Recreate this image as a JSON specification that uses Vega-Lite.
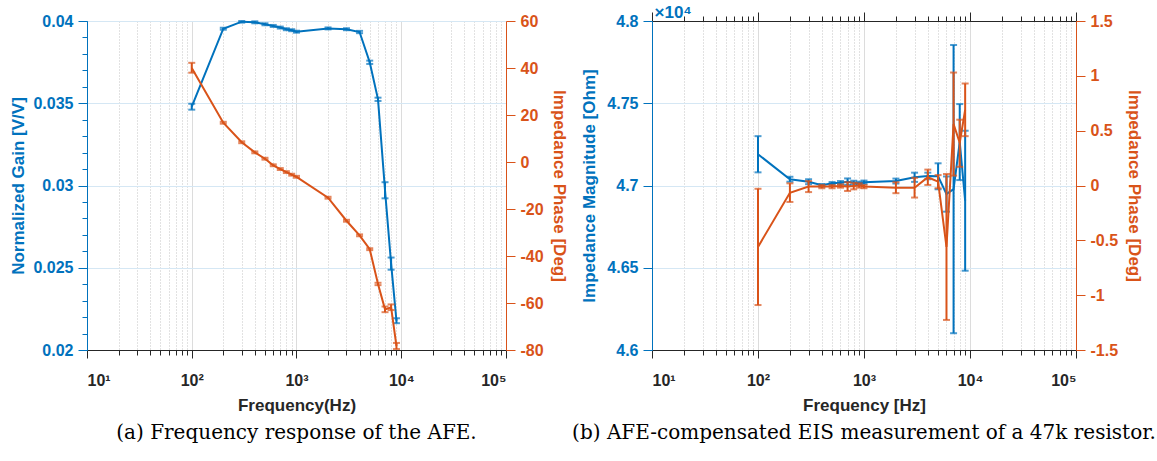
{
  "$schema": "https://vega.github.io/schema/vega-lite/v6.json",
  "background": "white",
  "padding": {"left": 9, "top": 3, "right": 2, "bottom": 4},
  "bounds": "flush",
  "spacing": 146,
  "datasets": {
    "afe": [
      {"freq": 100, "gain": 0.03479, "gain_lo": 0.03461, "gain_hi": 0.03497, "phase": 40.0, "phase_lo": 38.0, "phase_hi": 42.2},
      {"freq": 200, "gain": 0.03953, "gain_lo": 0.03947, "gain_hi": 0.03959, "phase": 16.7, "phase_lo": 16.3, "phase_hi": 17.1},
      {"freq": 300, "gain": 0.03996, "gain_lo": 0.0399, "gain_hi": 0.04, "phase": 8.4, "phase_lo": 8.0, "phase_hi": 8.8},
      {"freq": 400, "gain": 0.03992, "gain_lo": 0.03986, "gain_hi": 0.03998, "phase": 4.1, "phase_lo": 3.7, "phase_hi": 4.5},
      {"freq": 500, "gain": 0.0398, "gain_lo": 0.03974, "gain_hi": 0.03986, "phase": 1.4, "phase_lo": 1.0, "phase_hi": 1.8},
      {"freq": 600, "gain": 0.0397, "gain_lo": 0.03964, "gain_hi": 0.03976, "phase": -1.4, "phase_lo": -1.8, "phase_hi": -1.0},
      {"freq": 700, "gain": 0.0396, "gain_lo": 0.03954, "gain_hi": 0.03966, "phase": -3.0, "phase_lo": -3.4, "phase_hi": -2.6},
      {"freq": 800, "gain": 0.0395, "gain_lo": 0.03944, "gain_hi": 0.03956, "phase": -4.3, "phase_lo": -4.7, "phase_hi": -3.9},
      {"freq": 900, "gain": 0.03944, "gain_lo": 0.03938, "gain_hi": 0.0395, "phase": -5.4, "phase_lo": -5.8, "phase_hi": -5.0},
      {"freq": 1000, "gain": 0.03935, "gain_lo": 0.03929, "gain_hi": 0.03941, "phase": -6.3, "phase_lo": -6.7, "phase_hi": -5.9},
      {"freq": 2000, "gain": 0.03955, "gain_lo": 0.03949, "gain_hi": 0.03961, "phase": -15.2, "phase_lo": -15.6, "phase_hi": -14.8},
      {"freq": 3000, "gain": 0.0395, "gain_lo": 0.03944, "gain_hi": 0.03956, "phase": -25.0, "phase_lo": -25.4, "phase_hi": -24.6},
      {"freq": 4000, "gain": 0.03933, "gain_lo": 0.03926, "gain_hi": 0.0394, "phase": -31.2, "phase_lo": -31.6, "phase_hi": -30.8},
      {"freq": 5000, "gain": 0.03749, "gain_lo": 0.03739, "gain_hi": 0.03759, "phase": -37.1, "phase_lo": -37.5, "phase_hi": -36.7},
      {"freq": 6000, "gain": 0.03524, "gain_lo": 0.03514, "gain_hi": 0.03534, "phase": -51.9, "phase_lo": -52.4, "phase_hi": -51.4},
      {"freq": 7000, "gain": 0.02971, "gain_lo": 0.02922, "gain_hi": 0.0302, "phase": -62.7, "phase_lo": -63.9, "phase_hi": -61.5},
      {"freq": 8000, "gain": 0.02525, "gain_lo": 0.02488, "gain_hi": 0.02562, "phase": -61.8, "phase_lo": -63.0, "phase_hi": -60.6},
      {"freq": 9000, "gain": 0.02178, "gain_lo": 0.02163, "gain_hi": 0.02193, "phase": -78.3, "phase_lo": -79.6, "phase_hi": -77.0}
    ],
    "eis": [
      {"freq": 100, "mag": 47190, "mag_lo": 47080, "mag_hi": 47300, "phase": -0.56, "phase_lo": -1.09, "phase_hi": -0.03},
      {"freq": 200, "mag": 47038, "mag_lo": 47023, "mag_hi": 47053, "phase": -0.066, "phase_lo": -0.15, "phase_hi": 0.02},
      {"freq": 300, "mag": 47023, "mag_lo": 47008, "mag_hi": 47038, "phase": -0.01, "phase_lo": -0.06, "phase_hi": 0.04},
      {"freq": 400, "mag": 47001, "mag_lo": 46993, "mag_hi": 47009, "phase": -0.01, "phase_lo": -0.025, "phase_hi": 0.005},
      {"freq": 500, "mag": 47013, "mag_lo": 47005, "mag_hi": 47021, "phase": -0.01, "phase_lo": -0.025, "phase_hi": 0.005},
      {"freq": 600, "mag": 47017, "mag_lo": 47007, "mag_hi": 47027, "phase": -0.005, "phase_lo": -0.02, "phase_hi": 0.01},
      {"freq": 700, "mag": 47023, "mag_lo": 47003, "mag_hi": 47043, "phase": -0.01, "phase_lo": -0.05, "phase_hi": 0.03},
      {"freq": 800, "mag": 47017, "mag_lo": 47005, "mag_hi": 47029, "phase": -0.005, "phase_lo": -0.035, "phase_hi": 0.025},
      {"freq": 900, "mag": 47013, "mag_lo": 47003, "mag_hi": 47023, "phase": 0.0, "phase_lo": -0.02, "phase_hi": 0.02},
      {"freq": 1000, "mag": 47020, "mag_lo": 47010, "mag_hi": 47030, "phase": -0.01, "phase_lo": -0.025, "phase_hi": 0.005},
      {"freq": 2000, "mag": 47027, "mag_lo": 47012, "mag_hi": 47042, "phase": -0.02, "phase_lo": -0.07, "phase_hi": 0.03},
      {"freq": 3000, "mag": 47050, "mag_lo": 47022, "mag_hi": 47078, "phase": -0.02, "phase_lo": -0.11, "phase_hi": 0.07},
      {"freq": 4000, "mag": 47058, "mag_lo": 47038, "mag_hi": 47078, "phase": 0.075, "phase_lo": 0.005, "phase_hi": 0.145},
      {"freq": 5000, "mag": 47056, "mag_lo": 46977, "mag_hi": 47135, "phase": 0.035, "phase_lo": -0.025, "phase_hi": 0.095},
      {"freq": 6000, "mag": 46948, "mag_lo": 46841, "mag_hi": 47055, "phase": -0.56, "phase_lo": -1.226, "phase_hi": 0.105},
      {"freq": 7000, "mag": 46978, "mag_lo": 46102, "mag_hi": 47854, "phase": 0.56, "phase_lo": 0.09, "phase_hi": 1.03},
      {"freq": 8000, "mag": 47264, "mag_lo": 47033, "mag_hi": 47495, "phase": 0.39, "phase_lo": 0.17, "phase_hi": 0.6},
      {"freq": 9000, "mag": 46908, "mag_lo": 46482, "mag_hi": 47333, "phase": 0.69, "phase_lo": 0.45, "phase_hi": 0.93}
    ]
  },
  "config": {
    "view": {"stroke": null},
    "axis": {
      "labelFont": "Liberation Sans", "labelFontWeight": "bold", "labelFontSize": 16,
      "titleFont": "Liberation Sans", "titleFontWeight": "bold", "titleFontSize": 17,
      "grid": false, "domainWidth": 1, "tickWidth": 1
    }
  },
  "hconcat": [
    {
      "width": 419, "height": 329,
      "data": {"name": "afe"},
      "title": {"text": "(a) Frequency response of the AFE.", "orient": "bottom", "anchor": "middle", "frame": "group", "font": "DejaVu Serif", "fontSize": 20, "fontWeight": "normal", "color": "black", "offset": 10},
      "layer": [
        {
          "layer": [
            {
              "mark": {"type": "rule", "color": "#0072BD", "strokeWidth": 2},
              "encoding": {
                "x": {"field": "freq", "type": "quantitative", "scale": {"type": "log", "domain": [10, 100000], "nice": false},
                  "axis": {"orient": "bottom", "values": [10, 100, 1000, 10000, 100000],
                    "labelExpr": "'10' + ['¹','²','³','⁴','⁵'][round(log(datum.value) / LN10) - 1]",
                    "title": "Frequency(Hz)", "tickSize": 8, "labelPadding": 14, "titlePadding": 9,
                    "domainColor": "#262626", "tickColor": "#262626", "labelColor": "#262626", "titleColor": "#262626",
                    "grid": true, "gridColor": "#dcdcdc"}},
                "y": {"field": "gain_lo", "type": "quantitative", "scale": {"domain": [0.02, 0.04], "nice": false, "zero": false},
                  "axis": {"orient": "left", "values": [0.02, 0.025, 0.03, 0.035, 0.04], "labelExpr": "'' + datum.value",
                    "title": "Normalized Gain [V/V]", "tickSize": 9, "labelPadding": 5, "titlePadding": 5,
                    "domainColor": "#0072BD", "tickColor": "#0072BD", "labelColor": "#0072BD", "titleColor": "#0072BD",
                    "grid": true, "gridColor": "#d5e7f4"}},
                "y2": {"field": "gain_hi"}
              }
            },
            {
              "mark": {"type": "tick", "orient": "horizontal", "color": "#0072BD", "size": 7, "thickness": 2},
              "encoding": {
                "x": {"field": "freq", "type": "quantitative", "axis": null},
                "y": {"field": "gain_lo", "type": "quantitative", "axis": null}
              }
            },
            {
              "mark": {"type": "tick", "orient": "horizontal", "color": "#0072BD", "size": 7, "thickness": 2},
              "encoding": {
                "x": {"field": "freq", "type": "quantitative", "axis": null},
                "y": {"field": "gain_hi", "type": "quantitative", "axis": null}
              }
            },
            {
              "mark": {"type": "line", "color": "#0072BD", "strokeWidth": 2},
              "encoding": {
                "x": {"field": "freq", "type": "quantitative",
                  "axis": {"orient": "bottom", "values": [20, 30, 40, 50, 60, 70, 80, 90, 200, 300, 400, 500, 600, 700, 800, 900, 2000, 3000, 4000, 5000, 6000, 7000, 8000, 9000, 20000, 30000, 40000, 50000, 60000, 70000, 80000, 90000],
                    "labels": false, "title": null, "tickSize": 5, "domainColor": "#262626", "tickColor": "#262626",
                    "grid": true, "gridColor": "#c4c4c4", "gridDash": [1, 2]}},
                "y": {"field": "gain", "type": "quantitative",
                  "axis": {"orient": "left", "values": [0.021, 0.022, 0.023, 0.024, 0.026, 0.027, 0.028, 0.029, 0.031, 0.032, 0.033, 0.034, 0.036, 0.037, 0.038, 0.039],
                    "labels": false, "title": null, "tickSize": 5, "domainColor": "#0072BD", "tickColor": "#0072BD"}}
              }
            }
          ],
          "resolve": {"axis": {"x": "independent", "y": "independent"}}
        },
        {
          "layer": [
            {
              "mark": {"type": "rule", "color": "#D95319", "strokeWidth": 2},
              "encoding": {
                "x": {"field": "freq", "type": "quantitative", "axis": null},
                "y": {"field": "phase_lo", "type": "quantitative", "scale": {"domain": [-80, 60], "nice": false, "zero": false},
                  "axis": {"orient": "right", "values": [-80, -60, -40, -20, 0, 20, 40, 60], "labelExpr": "'' + datum.value",
                    "title": "Impedance Phase [Deg]", "tickSize": 9, "labelPadding": 5, "titlePadding": 6,
                    "domainColor": "#D95319", "tickColor": "#D95319", "labelColor": "#D95319", "titleColor": "#D95319"}},
                "y2": {"field": "phase_hi"}
              }
            },
            {
              "mark": {"type": "tick", "orient": "horizontal", "color": "#D95319", "size": 7, "thickness": 2},
              "encoding": {
                "x": {"field": "freq", "type": "quantitative", "axis": null},
                "y": {"field": "phase_lo", "type": "quantitative", "axis": null}
              }
            },
            {
              "mark": {"type": "tick", "orient": "horizontal", "color": "#D95319", "size": 7, "thickness": 2},
              "encoding": {
                "x": {"field": "freq", "type": "quantitative", "axis": null},
                "y": {"field": "phase_hi", "type": "quantitative", "axis": null}
              }
            },
            {
              "mark": {"type": "line", "color": "#D95319", "strokeWidth": 2},
              "encoding": {
                "x": {"field": "freq", "type": "quantitative", "axis": null},
                "y": {"field": "phase", "type": "quantitative", "axis": null}
              }
            }
          ],
          "resolve": {"axis": {"x": "independent", "y": "independent"}}
        }
      ],
      "resolve": {"scale": {"y": "independent"}, "axis": {"x": "independent", "y": "independent"}}
    },
    {
      "width": 424, "height": 329,
      "data": {"name": "eis"},
      "title": {"text": "(b) AFE-compensated EIS measurement of a 47k resistor.", "orient": "bottom", "anchor": "middle", "frame": "group", "font": "DejaVu Serif", "fontSize": 20, "fontWeight": "normal", "color": "black", "offset": 10},
      "layer": [
        {
          "layer": [
            {
              "mark": {"type": "rule", "color": "#0072BD", "strokeWidth": 2},
              "encoding": {
                "x": {"field": "freq", "type": "quantitative", "scale": {"type": "log", "domain": [10, 100000], "nice": false},
                  "axis": {"orient": "bottom", "values": [10, 100, 1000, 10000, 100000],
                    "labelExpr": "'10' + ['¹','²','³','⁴','⁵'][round(log(datum.value) / LN10) - 1]",
                    "title": "Frequency [Hz]", "tickSize": 8, "labelPadding": 14, "titlePadding": 9,
                    "domainColor": "#262626", "tickColor": "#262626", "labelColor": "#262626", "titleColor": "#262626",
                    "grid": true, "gridColor": "#dcdcdc"}},
                "y": {"field": "mag_lo", "type": "quantitative", "scale": {"domain": [46000, 48000], "nice": false, "zero": false},
                  "axis": {"orient": "left", "values": [46000, 46500, 47000, 47500, 48000], "labelExpr": "'' + datum.value / 10000",
                    "title": "Impedance Magnitude [Ohm]", "tickSize": 9, "labelPadding": 5, "titlePadding": 8,
                    "domainColor": "#0072BD", "tickColor": "#0072BD", "labelColor": "#0072BD", "titleColor": "#0072BD",
                    "grid": true, "gridColor": "#d5e7f4"}},
                "y2": {"field": "mag_hi"}
              }
            },
            {
              "mark": {"type": "tick", "orient": "horizontal", "color": "#0072BD", "size": 7, "thickness": 2},
              "encoding": {
                "x": {"field": "freq", "type": "quantitative",
                  "axis": {"orient": "top", "values": [10, 100, 1000, 10000, 100000], "labels": false,
                    "title": "×10⁴", "titleColor": "#0072BD", "titleFontSize": 17, "titleAngle": 0,
                    "titleAlign": "left", "titleBaseline": "alphabetic", "titleX": 2, "titleY": -4,
                    "tickSize": 9, "domainColor": "#262626", "tickColor": "#262626"}},
                "y": {"field": "mag_lo", "type": "quantitative", "axis": null}
              }
            },
            {
              "mark": {"type": "tick", "orient": "horizontal", "color": "#0072BD", "size": 7, "thickness": 2},
              "encoding": {
                "x": {"field": "freq", "type": "quantitative",
                  "axis": {"orient": "top", "values": [20, 30, 40, 50, 60, 70, 80, 90, 200, 300, 400, 500, 600, 700, 800, 900, 2000, 3000, 4000, 5000, 6000, 7000, 8000, 9000, 20000, 30000, 40000, 50000, 60000, 70000, 80000, 90000],
                    "labels": false, "title": null, "tickSize": 5, "domainColor": "#262626", "tickColor": "#262626"}},
                "y": {"field": "mag_hi", "type": "quantitative", "axis": null}
              }
            },
            {
              "mark": {"type": "line", "color": "#0072BD", "strokeWidth": 2},
              "encoding": {
                "x": {"field": "freq", "type": "quantitative",
                  "axis": {"orient": "bottom", "values": [20, 30, 40, 50, 60, 70, 80, 90, 200, 300, 400, 500, 600, 700, 800, 900, 2000, 3000, 4000, 5000, 6000, 7000, 8000, 9000, 20000, 30000, 40000, 50000, 60000, 70000, 80000, 90000],
                    "labels": false, "title": null, "tickSize": 5, "domainColor": "#262626", "tickColor": "#262626",
                    "grid": true, "gridColor": "#c4c4c4", "gridDash": [1, 2]}},
                "y": {"field": "mag", "type": "quantitative", "axis": null}
              }
            }
          ],
          "resolve": {"axis": {"x": "independent", "y": "independent"}}
        },
        {
          "layer": [
            {
              "mark": {"type": "rule", "color": "#D95319", "strokeWidth": 2},
              "encoding": {
                "x": {"field": "freq", "type": "quantitative", "axis": null},
                "y": {"field": "phase_lo", "type": "quantitative", "scale": {"domain": [-1.5, 1.5], "nice": false, "zero": false},
                  "axis": {"orient": "right", "values": [-1.5, -1, -0.5, 0, 0.5, 1, 1.5], "labelExpr": "'' + datum.value",
                    "title": "Impedance Phase [Deg]", "tickSize": 9, "labelPadding": 5, "titlePadding": 7,
                    "domainColor": "#D95319", "tickColor": "#D95319", "labelColor": "#D95319", "titleColor": "#D95319"}},
                "y2": {"field": "phase_hi"}
              }
            },
            {
              "mark": {"type": "tick", "orient": "horizontal", "color": "#D95319", "size": 7, "thickness": 2},
              "encoding": {
                "x": {"field": "freq", "type": "quantitative", "axis": null},
                "y": {"field": "phase_lo", "type": "quantitative", "axis": null}
              }
            },
            {
              "mark": {"type": "tick", "orient": "horizontal", "color": "#D95319", "size": 7, "thickness": 2},
              "encoding": {
                "x": {"field": "freq", "type": "quantitative", "axis": null},
                "y": {"field": "phase_hi", "type": "quantitative", "axis": null}
              }
            },
            {
              "mark": {"type": "line", "color": "#D95319", "strokeWidth": 2},
              "encoding": {
                "x": {"field": "freq", "type": "quantitative", "axis": null},
                "y": {"field": "phase", "type": "quantitative", "axis": null}
              }
            }
          ],
          "resolve": {"axis": {"x": "independent", "y": "independent"}}
        }
      ],
      "resolve": {"scale": {"y": "independent"}, "axis": {"x": "independent", "y": "independent"}}
    }
  ]
}
